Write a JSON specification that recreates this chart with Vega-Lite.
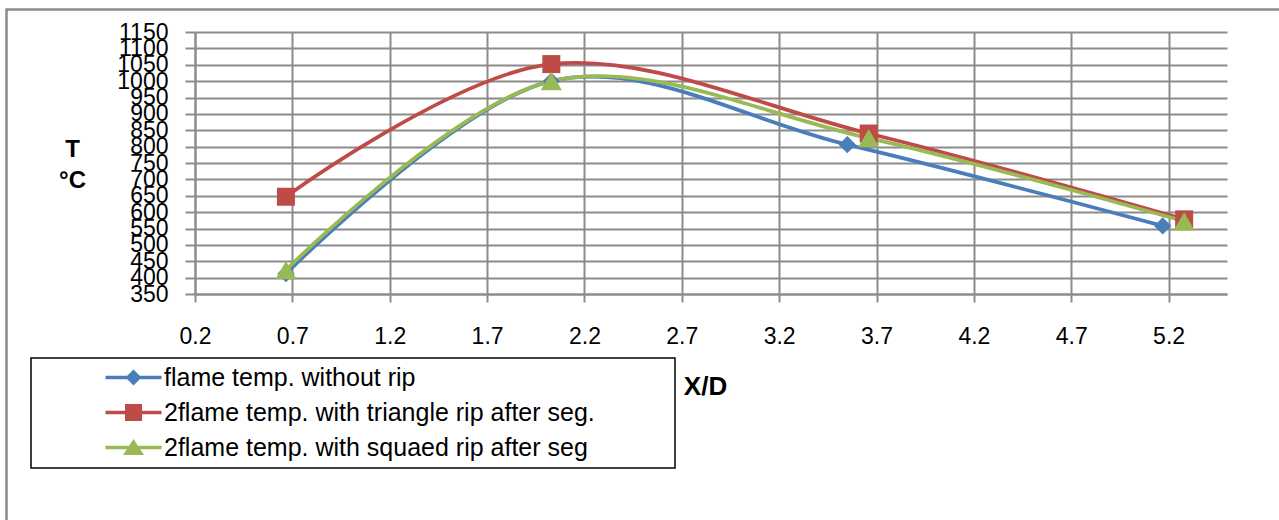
{
  "$schema": "https://vega.github.io/schema/vega-lite/v6.json",
  "autosize": "none",
  "width": 1032,
  "height": 262,
  "padding": {"left": 195, "top": 32, "right": 52, "bottom": 226},
  "background": "white",
  "config": {
    "view": {"stroke": null},
    "font": "Liberation Sans",
    "axis": {
      "labelFont": "Liberation Sans", "labelFontSize": 23, "labelColor": "black",
      "labelFlush": false, "labelOverlap": false,
      "tickColor": "#8c8c8c", "tickWidth": 2,
      "domainColor": "#8c8c8c", "domainWidth": 2,
      "grid": true, "gridColor": "#8c8c8c", "gridWidth": 2,
      "titleFont": "Liberation Sans", "titleFontWeight": "bold", "titleColor": "black", "titleAngle": 0
    }
  },
  "title": {
    "text": "inserting rib after segment (2)",
    "anchor": "start",
    "frame": "group",
    "font": "Liberation Serif",
    "fontSize": 26,
    "fontWeight": "normal",
    "color": "black",
    "baseline": "alphabetic",
    "offset": 22,
    "dx": -195
  },
  "data": {
    "values": [
      {"series": "flame temp. without rip", "X": 0.667, "T": 412},
      {"series": "flame temp. without rip", "X": 2.03, "T": 1000},
      {"series": "flame temp. without rip", "X": 3.55, "T": 806},
      {"series": "flame temp. without rip", "X": 5.17, "T": 558},
      {"series": "2flame temp. with triangle  rip after seg.", "X": 0.667, "T": 647},
      {"series": "2flame temp. with triangle  rip after seg.", "X": 2.03, "T": 1052},
      {"series": "2flame temp. with triangle  rip after seg.", "X": 3.66, "T": 840},
      {"series": "2flame temp. with triangle  rip after seg.", "X": 5.28, "T": 578},
      {"series": "2flame temp. with squaed rip after seg", "X": 0.667, "T": 423},
      {"series": "2flame temp. with squaed rip after seg", "X": 2.03, "T": 1000},
      {"series": "2flame temp. with squaed rip after seg", "X": 3.66, "T": 826},
      {"series": "2flame temp. with squaed rip after seg", "X": 5.28, "T": 572}
    ]
  },
  "layer": [
    {
      "data": {"values": [{}]},
      "mark": {"type": "rect", "fill": "transparent", "stroke": "#8c8c8c", "strokeWidth": 2.5},
      "encoding": {
        "x": {
          "datum": -0.768, "type": "quantitative",
          "scale": {"domain": [0.2, 5.5], "nice": false, "zero": false},
          "axis": {
            "values": [0.2, 0.7, 1.2, 1.7, 2.2, 2.7, 3.2, 3.7, 4.2, 4.7, 5.2],
            "tickCount": 30,
            "format": ".1f", "labelPadding": 23, "tickSize": 8, "labelOverlap": false,
            "title": "X/D", "titleFontSize": 26,
            "titleX": 510, "titleY": 92, "titleAlign": "center", "titleBaseline": "middle"
          }
        },
        "x2": {"datum": 6.5},
        "y": {
          "datum": 1218.7, "type": "quantitative",
          "scale": {"domain": [350, 1150], "nice": false, "zero": false},
          "axis": {
            "values": [350, 400, 450, 500, 550, 600, 650, 700, 750, 800, 850, 900, 950, 1000, 1050, 1100, 1150],
            "tickCount": 30,
            "format": "d", "labelPadding": 17, "tickSize": 10, "labelOverlap": false,
            "title": ["T", "°C"], "titleFontSize": 24, "titleLineHeight": 31,
            "titleX": -123, "titleY": 105, "titleAlign": "center", "titleBaseline": "top"
          }
        },
        "y2": {"datum": -600}
      }
    },
    {
      "mark": {"type": "line", "interpolate": "cardinal", "strokeWidth": 3.75},
      "encoding": {
        "x": {
          "field": "X", "type": "quantitative",
          "scale": {"domain": [0.2, 5.5], "nice": false, "zero": false},
          "axis": {
            "values": [0.2, 0.7, 1.2, 1.7, 2.2, 2.7, 3.2, 3.7, 4.2, 4.7, 5.2],
            "tickCount": 30,
            "format": ".1f", "labelPadding": 23, "tickSize": 8, "labelOverlap": false,
            "title": "X/D", "titleFontSize": 26,
            "titleX": 510, "titleY": 92, "titleAlign": "center", "titleBaseline": "middle"
          }
        },
        "y": {
          "field": "T", "type": "quantitative",
          "scale": {"domain": [350, 1150], "nice": false, "zero": false},
          "axis": {
            "values": [350, 400, 450, 500, 550, 600, 650, 700, 750, 800, 850, 900, 950, 1000, 1050, 1100, 1150],
            "tickCount": 30,
            "format": "d", "labelPadding": 17, "tickSize": 10, "labelOverlap": false,
            "title": ["T", "°C"], "titleFontSize": 24, "titleLineHeight": 31,
            "titleX": -123, "titleY": 105, "titleAlign": "center", "titleBaseline": "top"
          }
        },
        "color": {
          "field": "series", "type": "nominal",
          "scale": {
            "domain": ["flame temp. without rip", "2flame temp. with triangle  rip after seg.", "2flame temp. with squaed rip after seg"],
            "range": ["#4a7ebb", "#be4b48", "#98b954"]
          },
          "legend": {
            "title": null,
            "orient": "none",
            "legendX": -164,
            "legendY": 326,
            "padding": 7,
            "rowPadding": 9,
            "strokeColor": "black",
            "fillColor": "white",
            "labelFont": "Liberation Sans",
            "labelFontSize": 25,
            "labelColor": "black",
            "labelLimit": 0,
            "symbolSize": 400,
            "symbolOffset": 83,
            "labelOffset": 18,
            "encode": {
              "legend": {"update": {"strokeWidth": {"value": 1.5}}},
              "symbols": {
                "update": {
                  "shape": {"signal": "indexof(datum.value,'triangle') >= 0 ? 'M-2.8,-0.18H2.8V0.18H-2.8Z M-0.85,-0.85H0.85V0.85H-0.85Z M53.4,0' : indexof(datum.value,'squaed') >= 0 ? 'M-2.8,-0.18H2.8V0.18H-2.8Z M0,-0.85L1.05,0.75H-1.05Z M53.4,0' : 'M-2.8,-0.18H2.8V0.18H-2.8Z M0,-0.8L0.8,0L0,0.8L-0.8,0Z M53.4,0'"},
                  "fill": {"scale": "color", "field": "value"},
                  "strokeWidth": {"value": 0},
                  "opacity": {"value": 1}
                }
              }
            }
          }
        }
      }
    },
    {
      "transform": [{"filter": {"field": "series", "equal": "flame temp. without rip"}}],
      "mark": {"type": "point", "filled": true, "opacity": 1, "shape": "diamond", "size": 300},
      "encoding": {
        "x": {"field": "X", "type": "quantitative"},
        "y": {"field": "T", "type": "quantitative"},
        "color": {"field": "series", "type": "nominal"}
      }
    },
    {
      "transform": [{"filter": {"field": "series", "equal": "2flame temp. with triangle  rip after seg."}}],
      "mark": {"type": "point", "filled": true, "opacity": 1, "shape": "square", "size": 324},
      "encoding": {
        "x": {"field": "X", "type": "quantitative"},
        "y": {"field": "T", "type": "quantitative"},
        "color": {"field": "series", "type": "nominal"}
      }
    },
    {
      "transform": [{"filter": {"field": "series", "equal": "2flame temp. with squaed rip after seg"}}],
      "mark": {"type": "point", "filled": true, "opacity": 1, "shape": "triangle-up", "size": 441},
      "encoding": {
        "x": {"field": "X", "type": "quantitative"},
        "y": {"field": "T", "type": "quantitative"},
        "color": {"field": "series", "type": "nominal"}
      }
    }
  ]
}
